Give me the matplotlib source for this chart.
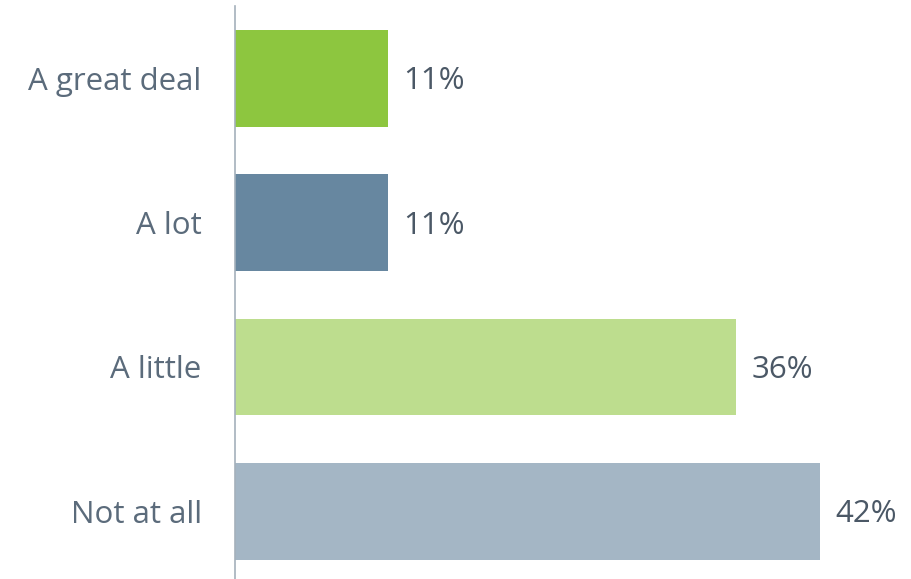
import matplotlib.pyplot as plt

# survey answers, top to bottom
categories = ["A great deal", "A lot", "A little", "Not at all"]
values = [11, 11, 36, 42]
colors = ["#8dc63f", "#6787a0", "#bddd8e", "#a4b6c5"]

plt.rcParams['font.family'] = ['Open Sans', 'DejaVu Sans']

fig = plt.figure(figsize=(9.12, 5.79), dpi=100)
ax = fig.add_axes([235 / 912, 0, 1 - 235 / 912, 573 / 579])

pos = range(len(categories))
ax.barh(pos, values, height=0.67, color=colors)

# value labels just right of each bar
for p, v in zip(pos, values):
    ax.text(v + 1.1, p + 0.02, f"{v}%", va='center', ha='left',
            fontsize=22.5, color='#4b5866')

ax.set_yticks(list(pos))
ax.set_yticklabels(categories, fontsize=22.5, color='#5b6b7b')
ax.tick_params(axis='y', length=0, pad=24)
ax.set_xticks([])
ax.set_xlim(0, 48.6)
ax.set_ylim(3.47, -0.503)

for s in ['top', 'right', 'bottom']:
    ax.spines[s].set_visible(False)
ax.spines['left'].set_color('#a4b0bb')
ax.spines['left'].set_linewidth(1.2)

fig.savefig('out.png', dpi=100)
